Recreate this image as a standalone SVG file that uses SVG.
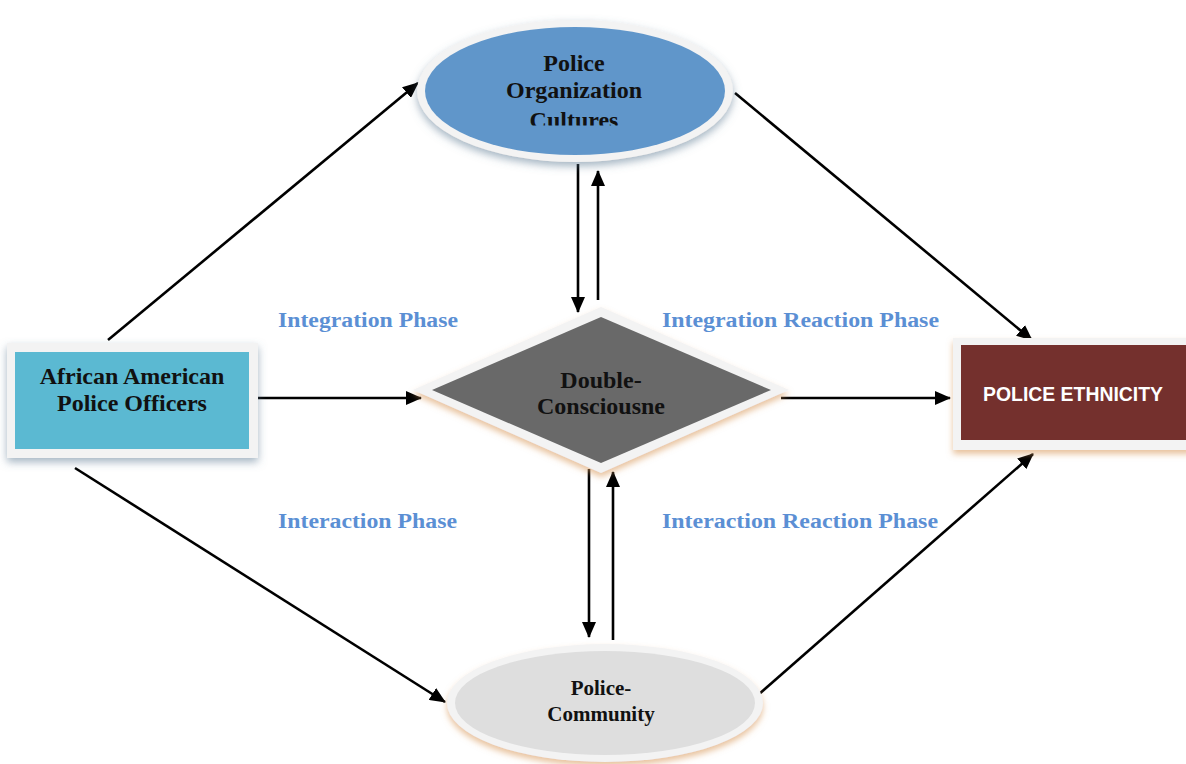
<svg xmlns="http://www.w3.org/2000/svg" width="1186" height="764" viewBox="0 0 1186 764">
  <style>
    .conn { stroke: #000; stroke-width: 2.6; fill: none; marker-end: url(#arr); }
    .serif { font-family: "Liberation Serif", "Times New Roman", serif; font-weight: bold; }
    .node { fill: #111; font-size: 24px; text-anchor: middle; }
    .phase { fill: #5B8FD4; font-size: 20px; }
    .ring { fill: #F3F3F3; }
  </style>
  <defs>
    <marker id="arr" markerWidth="16" markerHeight="14" refX="15" refY="7" orient="auto" markerUnits="userSpaceOnUse">
      <path d="M0,0 L16,7 L0,14 z" fill="#000"/>
    </marker>
    <filter id="shBlue" x="-20%" y="-20%" width="140%" height="150%">
      <feDropShadow dx="0" dy="4" stdDeviation="4" flood-color="#5A7890" flood-opacity="0.55"/>
    </filter>
    <filter id="shOrange" x="-20%" y="-20%" width="140%" height="150%">
      <feDropShadow dx="0" dy="4" stdDeviation="3" flood-color="#D99A5A" flood-opacity="0.6"/>
    </filter>
    <clipPath id="clipTop">
      <rect x="400" y="20" width="350" height="105.5"/>
    </clipPath>
  </defs>
  <rect width="1186" height="764" fill="#fff"/>

  <g id="connectors">
    <line class="conn" x1="108" y1="340" x2="418" y2="83"/>
    <line class="conn" x1="735" y1="93" x2="1032" y2="340"/>
    <line class="conn" x1="255" y1="398" x2="421" y2="398"/>
    <line class="conn" x1="781" y1="398" x2="950" y2="398"/>
    <line class="conn" x1="75" y1="468" x2="445" y2="702"/>
    <line class="conn" x1="758" y1="695" x2="1033" y2="454"/>
    <line class="conn" x1="578" y1="164" x2="578" y2="312"/>
    <line class="conn" x1="598" y1="300" x2="598" y2="171"/>
    <line class="conn" x1="589" y1="469" x2="589" y2="637"/>
    <line class="conn" x1="613" y1="640" x2="613" y2="472"/>
  </g>

  <g id="police-organization-cultures">
    <ellipse class="ring" cx="575" cy="91" rx="158" ry="71" filter="url(#shBlue)"/>
    <ellipse cx="575" cy="91" rx="150" ry="64" fill="#6096CA"/>
    <g clip-path="url(#clipTop)">
      <text class="serif node" x="574" y="71">Police</text>
      <text class="serif node" x="574" y="98">Organization</text>
      <text class="serif node" x="574" y="128">Cultures</text>
    </g>
  </g>

  <g id="african-american-police-officers">
    <rect class="ring" x="7" y="343" width="251" height="115" filter="url(#shBlue)"/>
    <rect x="15" y="352" width="234" height="97" fill="#5BB9D2"/>
    <text class="serif node" x="132" y="384">African American</text>
    <text class="serif node" x="132" y="411">Police Officers</text>
  </g>

  <g id="double-consciousness">
    <polygon class="ring" points="413,390 601,307 789,390 601,473" filter="url(#shOrange)"/>
    <polygon points="432,390 601,317 771,390 601,463" fill="#696969"/>
    <text class="serif node" x="601" y="388">Double-</text>
    <text class="serif node" x="601" y="414">Consciousne</text>
  </g>

  <g id="police-community">
    <ellipse class="ring" cx="605" cy="703" rx="158" ry="59" filter="url(#shOrange)"/>
    <ellipse cx="605" cy="703" rx="150" ry="52" fill="#DEDEDE"/>
    <text class="serif node" x="601" y="695" style="font-size:21px">Police-</text>
    <text class="serif node" x="601" y="721" style="font-size:21px">Community</text>
  </g>

  <g id="police-ethnicity">
    <rect class="ring" x="953" y="338" width="240" height="112" filter="url(#shOrange)"/>
    <rect x="961" y="345" width="230" height="95" fill="#74302D"/>
    <text x="1073" y="401" text-anchor="middle" fill="#fff" font-family="Liberation Sans, Arial, sans-serif" font-weight="bold" font-size="20" textLength="180" lengthAdjust="spacingAndGlyphs">POLICE ETHNICITY</text>
  </g>

  <g id="phase-labels">
    <text class="serif phase" x="278" y="327" textLength="180" lengthAdjust="spacingAndGlyphs">Integration Phase</text>
    <text class="serif phase" x="662" y="327" textLength="277" lengthAdjust="spacingAndGlyphs">Integration Reaction Phase</text>
    <text class="serif phase" x="278" y="528" textLength="179" lengthAdjust="spacingAndGlyphs">Interaction Phase</text>
    <text class="serif phase" x="662" y="528" textLength="276" lengthAdjust="spacingAndGlyphs">Interaction Reaction Phase</text>
  </g>
</svg>
